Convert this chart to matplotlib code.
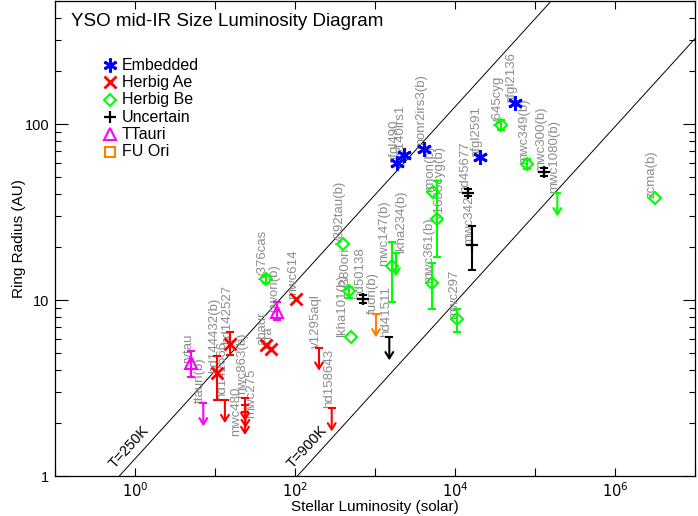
import numpy as np
import matplotlib.pyplot as plt

plt.rcParams['font.family'] = ['Liberation Sans', 'DejaVu Sans']

# ---- data (luminosity in L_sun, ring radius in AU) ----
# measured sizes: name, L, R, R_low, R_high
emb_names = ['afgl490', 's140irs1', 'monr2irs3(b)', 'afgl2591', 'afgl2136']
emb_lum = [1884, 2304, 4100, 20500, 56200]
emb_rad = [60.0, 66.7, 72.1, 64.9, 131.6]

hae_names = ['hd144432(b)', 'hd142527', 'abaur', 'rcra', 'mwc614']
hae_lum = [10.5, 15.4, 43.4, 50.1, 102]
hae_rad = [3.83, 5.60, 5.55, 5.27, 10.1]
hae_lo = [2.70, 4.87, 5.55, 5.27, 10.1]
hae_hi = [4.81, 6.61, 5.55, 5.27, 10.1]

hbe_names = ['v376cas', 'v892tau(b)', 'v380ori', 'lkha101(b)', 'mwc147(b)',
             'mwc361(b)', 'v1685cyg(b)', 'rmon(b)', 'mwc297', 'v645cyg',
             'mwc349(b)', 'zcma(b)']
hbe_lum = [43.0, 401, 477, 497, 1617, 5110, 6010, 5260, 10500, 37250, 80150, 3.16e6]
hbe_rad = [13.2, 20.7, 11.25, 6.19, 15.7, 12.5, 28.9, 41.3, 7.77, 98.7, 59.0, 37.8]
hbe_lo = [12.5, 20.7, 10.3, 6.19, 9.78, 8.85, 17.6, 41.3, 6.61, 92.5, 55.3, 37.8]
hbe_hi = [13.9, 20.7, 11.9, 6.19, 21.4, 16.2, 47.3, 41.3, 8.85, 105, 63.0, 37.8]

unc_names = ['hd50138', 'hd45677', 'mwc342', 'mwc300(b)']
unc_lum = [714, 14420, 16180, 130700]
unc_rad = [10.1, 40.7, 20.5, 53.6]
unc_lo = [9.58, 39.0, 14.8, 50.9]
unc_hi = [10.7, 42.7, 26.3, 56.5]

tt_names = ['rytau', 'gwori(b)']
tt_lum = [5.01, 60.1]
tt_rad = [4.37, 8.58]
tt_lo = [3.67, 7.70]
tt_hi = [5.15, 9.78]

# upper limits: name, L, R_max
hae_lim_names = ['hd142666', 'mwc863(b)', 'mwc275', 'mwc480', 'v1295aql', 'hd158643']
hae_lim_lum = [13.3, 23.7, 24.0, 23.7, 199.5, 287.6]
hae_lim_rad = [2.70, 2.77, 2.53, 2.31, 5.36, 2.42]

hbe_lim_names = ['lkha234(b)', 'mwc1080(b)']
hbe_lim_lum = [1830, 190100]
hbe_lim_rad = [18.4, 40.4]

unc_lim_names = ['hd41511']
unc_lim_lum = [1510]
unc_lim_rad = [6.14]

tt_lim_names = ['ttaun(b)']
tt_lim_lum = [7.14]
tt_lim_rad = [2.59]

fu_lim_names = ['fuori(b)']
fu_lim_lum = [1029]
fu_lim_rad = [8.29]

# dust sublimation temperatures for the reference lines
sub_temps = [250, 900]

# hand nudges for crowded name tags (points right, points down)
tag_nudge = {'mwc275': (6, -9), 'mwc480': (-4, -17), 'lkha234(b)': (6, 0),
             'lkha101(b)': (-4, 0), 'mwc147(b)': (-3, 0), 'v1685cyg(b)': (4, 0)}

BLUE = '#0000ff'
RED = '#ff0000'
GREEN = '#00ff00'
MAGENTA = '#ff00ff'
ORANGE = '#ff7f00'
LABEL_GRAY = '#8c8c8c'

fig = plt.figure(figsize=(6.98, 5.16), dpi=100)
ax = fig.add_axes([55 / 698, 1 - 476 / 516, 640 / 698, 475 / 516])
ax.set_xscale('log')
ax.set_yscale('log')
ax.set_xlim(0.1, 1e7)
ax.set_ylim(1, 500)


def label(names, lum, rad):
    for n, x, y in zip(names, lum, rad):
        ax.annotate(n, xy=(x, y), xytext=tag_nudge.get(n, (0, 0)),
                    textcoords='offset points', rotation=90,
                    rotation_mode='anchor', ha='left', va='baseline',
                    color=LABEL_GRAY, fontsize=9.5, zorder=2)


def detections(names, lum, rad, lo, hi, color, marker, ms, mew, mfc='none'):
    label(names, lum, rad)
    for x, y, a, b in zip(lum, rad, lo, hi):
        if b > a:
            ax.errorbar([x], [y], yerr=[[y - a], [b - y]], fmt='none',
                        ecolor=color, elinewidth=1.5, capsize=3, capthick=1.5,
                        zorder=3)
    ax.plot(lum, rad, linestyle='none', marker=marker, ms=ms, mew=mew,
            mec=color, mfc=mfc, zorder=4)


def limits(names, lum, rad, color):
    label(names, lum, rad)
    for x, y in zip(lum, rad):
        ax.annotate('', xy=(x, y * 0.74), xytext=(x, y),
                    arrowprops=dict(arrowstyle='->,head_length=0.45,head_width=0.28',
                                    color=color, lw=1.5, shrinkA=0, shrinkB=0),
                    zorder=3)
    ax.plot(lum, rad, linestyle='none', marker='_', ms=6, mew=1.5,
            mec=color, zorder=4)


# sublimation radius lines (Monnier & Millan-Gabet 2002, Q_R = 1)
Lgrid = np.array([1e-2, 1e8])
for T in sub_temps:
    R = 1.1 * np.sqrt(Lgrid / 1000.0) * (1500.0 / T) ** 2
    ax.plot(Lgrid, R, color='black', lw=0.7, zorder=1)

fig.canvas.draw()
p0 = ax.transData.transform((1.0, 1.0))
p1 = ax.transData.transform((100.0, 10.0))
ang = np.degrees(np.arctan2(p1[1] - p0[1], p1[0] - p0[0]))
for T in sub_temps:
    y0 = 1.03
    x0 = (y0 / (1.1 * (1500.0 / T) ** 2)) ** 2 * 1000.0
    ax.annotate(f'T={T}K', xy=(x0, y0), xytext=(-3, 2), textcoords='offset points',
                rotation=ang, rotation_mode='anchor', ha='left', va='bottom',
                fontsize=10.5, zorder=2)

detections(hae_names, hae_lum, hae_rad, hae_lo, hae_hi, RED, 'x', 8, 2)
detections(hbe_names, hbe_lum, hbe_rad, hbe_lo, hbe_hi, GREEN, 'D', 6.5, 1.5)
detections(unc_names, unc_lum, unc_rad, unc_lo, unc_hi, 'black', '+', 8, 1.6)
detections(tt_names, tt_lum, tt_rad, tt_lo, tt_hi, MAGENTA, '^', 9, 1.5)
detections(emb_names, emb_lum, emb_rad, emb_rad, emb_rad, BLUE, (6, 2, 0), 10.5, 2)

limits(hae_lim_names, hae_lim_lum, hae_lim_rad, RED)
limits(hbe_lim_names, hbe_lim_lum, hbe_lim_rad, GREEN)
limits(unc_lim_names, unc_lim_lum, unc_lim_rad, 'black')
limits(tt_lim_names, tt_lim_lum, tt_lim_rad, MAGENTA)
limits(fu_lim_names, fu_lim_lum, fu_lim_rad, ORANGE)

# legend
legend_items = [('Embedded', BLUE, (6, 2, 0), 10, 2),
                ('Herbig Ae', RED, 'x', 8, 2),
                ('Herbig Be', GREEN, 'D', 6, 1.5),
                ('Uncertain', 'black', '+', 8, 1.6),
                ('TTauri', MAGENTA, '^', 8, 1.5),
                ('FU Ori', ORANGE, 's', 7, 1.5)]
for i, (name, c, m, ms, mew) in enumerate(legend_items):
    yy = 0.865 - i * 0.0365
    ax.plot([0.086], [yy], transform=ax.transAxes, marker=m, ms=ms, mew=mew,
            mec=c, mfc='none', linestyle='none', clip_on=False)
    ax.text(0.104, yy, name, transform=ax.transAxes, fontsize=11.5, va='center')

ax.text(0.025, 0.956, 'YSO mid-IR Size Luminosity Diagram', transform=ax.transAxes,
        fontsize=13.5, va='center')

# axes styling
ax.set_xticks([10.0 ** k for k in range(-1, 8)])
ax.set_xticklabels(['' if k % 2 else f'$10^{{{k}}}$' for k in range(-1, 8)])
ax.xaxis.set_minor_locator(plt.NullLocator())
ax.set_yticks([1, 10, 100])
ax.set_yticklabels(['1', '10', '100'])
ax.tick_params(which='both', direction='in', top=True, right=True, labelsize=10.5)
ax.tick_params(axis='x', which='major', length=6, width=0.8, pad=4)
ax.tick_params(axis='y', which='major', length=9, width=0.8, pad=4)
ax.tick_params(axis='y', which='minor', length=4.5, width=0.8)
for s in ax.spines.values():
    s.set_linewidth(0.9)

ax.set_xlabel('Stellar Luminosity (solar)', fontsize=11, labelpad=0)
ax.set_ylabel('Ring Radius (AU)', fontsize=11, labelpad=-1)

fig.savefig('out.png', dpi=100)
